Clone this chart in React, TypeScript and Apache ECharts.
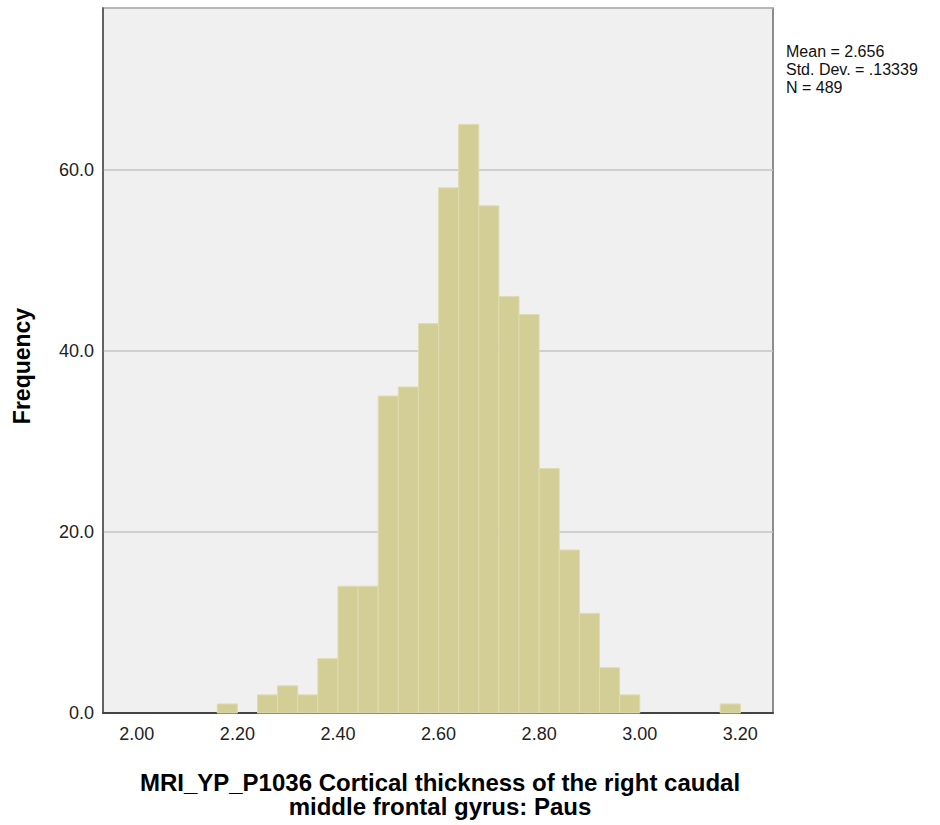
import React, { useEffect, useRef } from "react";
import * as echarts from "echarts";

// Histogram data: bin lower edges (width 0.04) and counts
const binStarts = [2.16, 2.20, 2.24, 2.28, 2.32, 2.36, 2.40, 2.44, 2.48, 2.52, 2.56, 2.60, 2.64, 2.68, 2.72, 2.76, 2.80, 2.84, 2.88, 2.92, 2.96, 3.00, 3.04, 3.08, 3.12, 3.16];
const counts = [1, 0, 2, 3, 2, 6, 14, 14, 35, 36, 43, 58, 65, 56, 46, 44, 27, 18, 11, 5, 2, 0, 0, 0, 0, 1];
const binWidth = 0.04;
const xTickValues = [2.0, 2.2, 2.4, 2.6, 2.8, 3.0, 3.2];
const statsLines = ["Mean = 2.656", "Std. Dev. = .13339", "N = 489"];
const xTitleLines = ["MRI_YP_P1036 Cortical thickness of the right caudal", "middle frontal gyrus: Paus"];
const yTitle = "Frequency";

const FONT = "'Liberation Sans', Arial, sans-serif";

export default function App() {
  const ref = useRef<HTMLDivElement>(null);
  useEffect(() => {
    if (!ref.current) return;
    const chart = echarts.init(ref.current, null, { renderer: "svg" });
    const data = binStarts.map((s, i) => [s, s + binWidth, counts[i]]);
    chart.setOption({
      animation: false,
      backgroundColor: "#ffffff",
      grid: {
        left: 103,
        top: 8,
        width: 670,
        height: 705,
        show: true,
        backgroundColor: "#f0f0f0",
        borderColor: "#6a6a6a",
        borderWidth: 1.5,
      },
      xAxis: {
        type: "value",
        min: 1.9328,
        max: 3.265,
        axisLine: { show: true, lineStyle: { color: "#444444", width: 2 } },
        axisTick: { show: false },
        splitLine: { show: false },
        axisLabel: {
          customValues: xTickValues,
          formatter: (v: number) => v.toFixed(2),
          fontSize: 18,
          fontFamily: FONT,
          color: "#222222",
          margin: 12,
          showMinLabel: true,
          showMaxLabel: true,
        },
      },
      yAxis: {
        type: "value",
        min: 0,
        max: 77.85,
        interval: 20,
        axisLine: { show: true, lineStyle: { color: "#555555", width: 1.5 } },
        axisTick: { show: false },
        splitLine: { show: true, lineStyle: { color: "#c4c4c4", width: 1.5 } },
        axisLabel: {
          formatter: (v: number) => (Math.abs(v % 20) < 1e-6 ? v.toFixed(1) : ""),
          fontSize: 18,
          fontFamily: FONT,
          color: "#222222",
          margin: 9,
        },
      },
      series: [
        {
          type: "custom",
          data,
          encode: { x: [0, 1], y: 2 },
          renderItem: (params: any, api: any) => {
            const x0 = api.value(0);
            const x1 = api.value(1);
            const y = api.value(2);
            if (!y) return null;
            const p0 = api.coord([x0, y]);
            const p1 = api.coord([x1, 0]);
            return {
              type: "rect",
              shape: { x: p0[0], y: p0[1], width: p1[0] - p0[0], height: p1[1] - p0[1] },
              style: { fill: "#d2ce96", stroke: "#dfdcb0", lineWidth: 1 },
            };
          },
        },
      ],
      graphic: [
        {
          type: "text",
          left: 786,
          top: 42,
          style: {
            text: statsLines.join("\n"),
            font: `16px ${FONT}`,
            fill: "#111111",
            lineHeight: 18,
          },
        },
        {
          type: "text",
          x: 440,
          y: 770,
          style: {
            text: xTitleLines.join("\n"),
            font: `bold 24px ${FONT}`,
            fill: "#000000",
            align: "center",
            verticalAlign: "top",
            lineHeight: 24.5,
          },
        },
        {
          type: "text",
          x: 22,
          y: 366,
          rotation: Math.PI / 2,
          style: {
            text: yTitle,
            font: `bold 23px ${FONT}`,
            fill: "#000000",
            align: "center",
            verticalAlign: "middle",
          },
        },
      ],
    });
    return () => chart.dispose();
  }, []);
  return (
    <div
      ref={ref}
      style={{ position: "absolute", left: 0, top: 0, width: 940, height: 825 }}
    />
  );
}
